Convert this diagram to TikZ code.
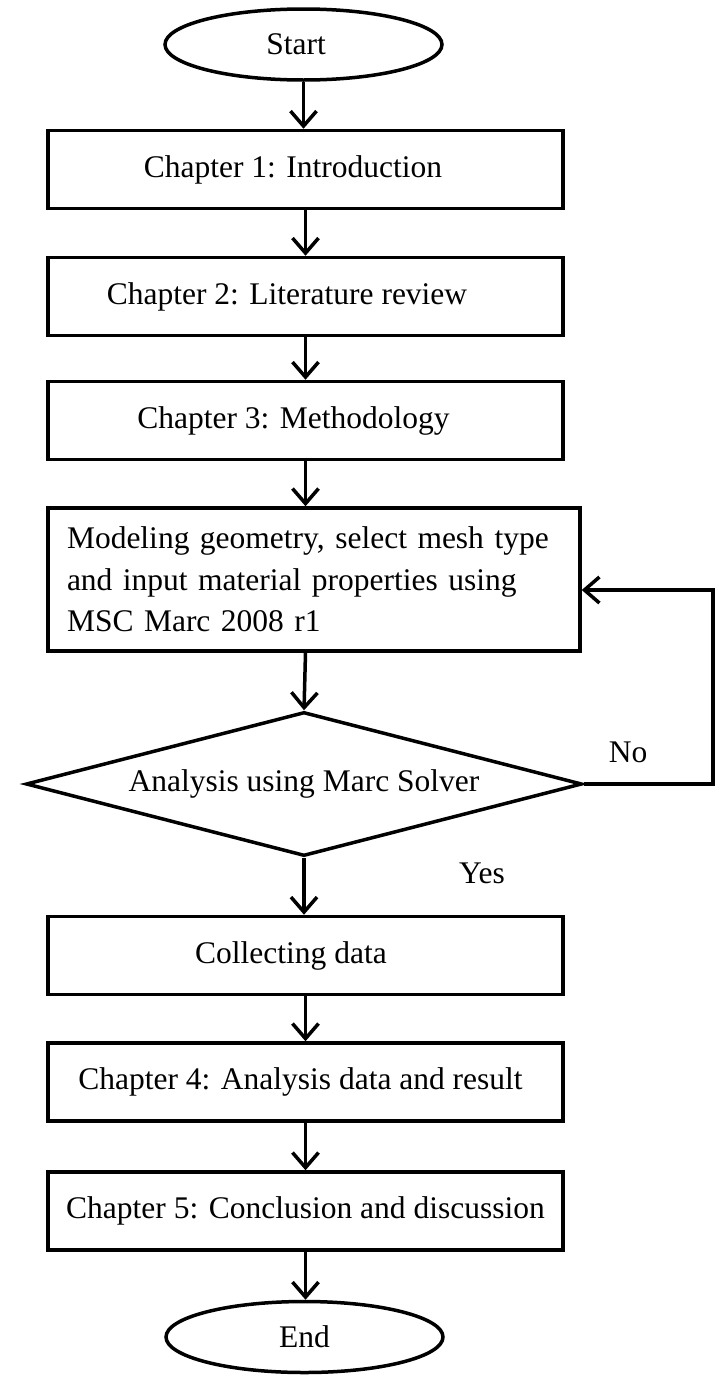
\documentclass[tikz,border=0pt]{standalone}
\usepackage{fontspec}
\setmainfont{Liberation Serif}
\usetikzlibrary{shapes.geometric,arrows.meta}
\begin{document}
\begin{tikzpicture}[x=1pt,y=-1pt,
  every node/.style={font=\fontsize{31.5}{41.5}\selectfont},
  textshift/.style={execute at begin node={\hspace*{#1}}},
  conn/.style={line width=3.5pt,-{Straight Barb[length=15pt,width=26pt,line width=3.5pt]}},
  term/.style={ellipse,draw,line width=3.5pt,minimum width=277pt,minimum height=71pt,inner sep=0pt},
  procbox/.style={rectangle,draw,line width=3.5pt,minimum width=515pt,minimum height=78pt,inner sep=0pt},
  decision/.style={diamond,draw,line width=3.5pt,minimum width=556pt,minimum height=144pt,aspect=3.86,inner sep=0pt}]
\useasboundingbox (0,0) rectangle (721,1376);
\node[term,textshift=-15pt] (start) at (303.5,44.5) {Start};
\node[procbox,textshift=-25pt] (c1) at (305.5,169.5) {Chapter 1: Introduction};
\node[procbox,textshift=-37pt] (c2) at (305.5,296.5) {Chapter 2: Literature review};
\node[procbox,textshift=-24pt] (c3) at (305.5,420.5) {Chapter 3: Methodology};
\node[procbox,minimum width=532pt,minimum height=143pt,text width=494pt,align=left,inner xsep=19pt] (model) at (314,579.5) {Modeling geometry, select mesh type\\and input material properties using\\MSC Marc 2008 r1};
\node[decision] (dec) at (304,784) {Analysis using Marc Solver};
\node[procbox,textshift=-29pt] (collect) at (305.5,955.5) {Collecting data};
\node[procbox,textshift=-10pt] (c4) at (305.5,1082) {Chapter 4: Analysis data and result};
\node[procbox] (c5) at (305.5,1211) {Chapter 5: Conclusion and discussion};
\node[term] (end) at (304.5,1337) {End};
\node (no) at (628,752) {No};
\node (yes) at (482,873) {Yes};
\coordinate (r1) at (713,784);
\coordinate (r2) at (713,590);
\draw[conn] (start.south) -- (start.south |- c1.north);
\draw[conn] (c1.south) -- (c2.north);
\draw[conn] (c2.south) -- (c3.north);
\draw[conn] (c3.south) -- (c3.south |- model.north);
\draw[conn] (c3.south |- model.south) -- (dec.north);
\draw[conn] (dec.south) -- (dec.south |- collect.north);
\draw[conn] (collect.south) -- (c4.north);
\draw[conn] (c4.south) -- (c5.north);
\draw[conn] (c5.south) -- (c5.south |- end.north);
\draw[conn] (dec.east) -- (r1) -- (r2) -- (r2 -| model.east);
\end{tikzpicture}
\end{document}
